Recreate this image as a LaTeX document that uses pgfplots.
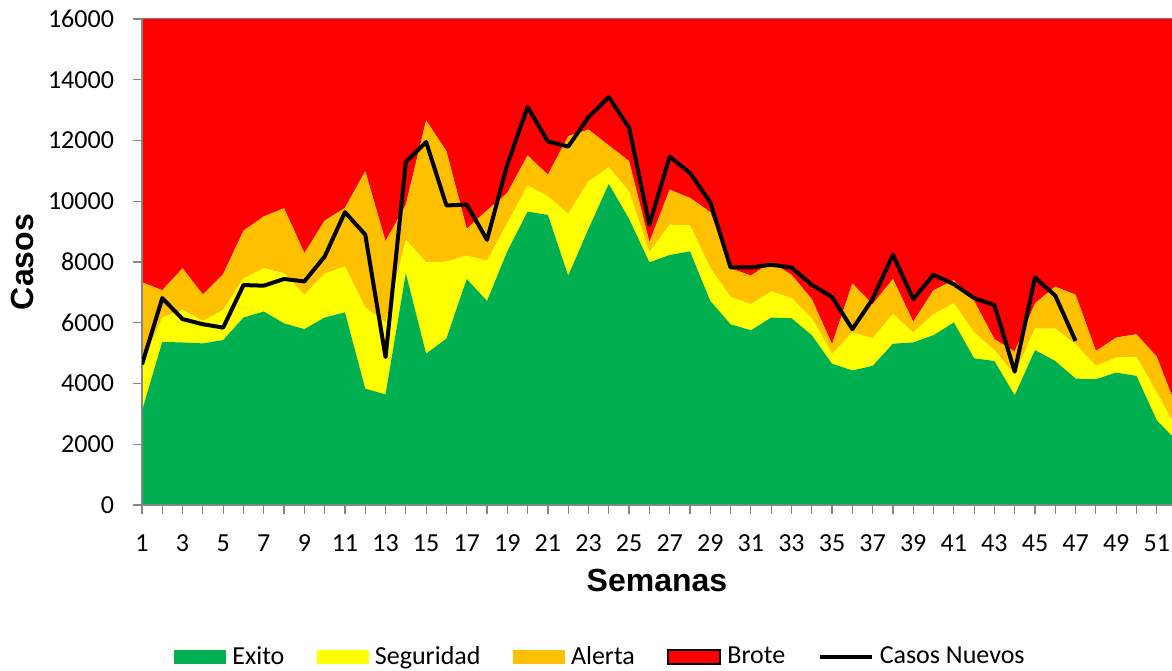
\documentclass[border=0pt]{standalone}
\usepackage{fontspec}
\setmainfont{Carlito}
\newfontfamily\arialfont{Liberation Sans}
\usepackage{pgfplots}
\usepackage{pgfplotstable}
\pgfplotsset{compat=1.18}
\definecolor{cExito}{HTML}{00B050}
\definecolor{cSeg}{HTML}{FFFF00}
\definecolor{cAlerta}{HTML}{FFC000}
\definecolor{cBrote}{HTML}{FF0000}
\definecolor{cAxis}{HTML}{868686}

\pgfplotstableread{
w exito seguridad alerta brote
1 3100 1530 2700 8670
2 5370 800 900 8930
3 5350 1070 1370 8210
4 5320 740 870 9070
5 5430 990 1180 8400
6 6170 1290 1570 6970
7 6370 1420 1710 6500
8 5980 1650 2140 6230
9 5790 1130 1370 7710
10 6170 1450 1740 6640
11 6340 1510 1930 6220
12 3830 2670 4490 5010
13 3640 2370 2670 7320
14 7630 1100 1160 6110
15 4980 3010 4670 3340
16 5480 2530 3640 4350
17 7440 770 880 6910
18 6720 1320 1660 6300
19 8350 930 990 5730
20 9660 860 990 4490
21 9550 610 710 5130
22 7550 2030 2560 3860
23 9090 1560 1710 3640
24 10570 550 720 4160
25 9420 900 1000 4680
26 7990 330 330 7350
27 8230 1000 1150 5620
28 8350 850 910 5890
29 6720 1080 1840 6360
30 5950 900 940 8210
31 5750 860 940 8450
32 6170 860 960 8010
33 6150 660 770 8420
34 5590 560 630 9220
35 4650 330 310 10710
36 4430 1250 1610 8710
37 4580 910 1120 9390
38 5310 970 1160 8560
39 5350 330 350 9970
40 5590 690 790 8930
41 6010 630 760 8600
42 4830 850 1040 9280
43 4740 360 360 10540
44 3610 690 750 10950
45 5100 710 830 9360
46 4740 1070 1380 8810
47 4160 1130 1630 9080
48 4140 440 490 10930
49 4360 490 660 10490
50 4250 630 740 10380
51 2790 910 1180 11120
52 2100 400 650 12850
}\datos

\pgfplotstableread{
w casos
1 4630
2 6810
3 6120
4 5950
5 5840
6 7240
7 7220
8 7440
9 7360
10 8180
11 9640
12 8900
13 4870
14 11290
15 11950
16 9860
17 9890
18 8730
19 11210
20 13100
21 11970
22 11800
23 12770
24 13430
25 12420
26 9230
27 11470
28 10930
29 9970
30 7820
31 7820
32 7910
33 7820
34 7250
35 6850
36 5790
37 6780
38 8240
39 6780
40 7580
41 7270
42 6810
43 6580
44 4390
45 7490
46 6890
47 5400
}\casos

\pgfplotsset{mybase/.style={width=515pt, height=243pt, scale only axis,
  xmin=1, xmax=51.75, ymin=0, ymax=16000}}

\begin{document}
\begin{tikzpicture}
\begin{axis}[mybase,
  stack plots=y,
  axis on top,
  axis x line*=bottom, axis y line*=left,
  axis line style={draw=cAxis, line width=1pt},
  tick align=outside,
  major tick length=4.5pt, minor tick length=4.5pt,
  every tick/.style={draw=cAxis, line width=0.6pt},
  ytick={0,2000,...,16000},
  scaled y ticks=false,
  xtick={1,3,...,51},
  minor xtick={2,4,...,52},
  /pgf/number format/assume math mode=true,
  /pgf/number format/1000 sep={},
  ticklabel style={font=\fontsize{13}{15}\selectfont},
  yticklabel style={xshift=-6pt},
  xticklabel style={yshift=-7pt},
  xlabel={Semanas}, ylabel={Casos},
  xlabel style={font=\arialfont\bfseries\fontsize{16}{19}\selectfont, at={(axis description cs:0.5,-0.156)}, anchor=center},
  ylabel style={font=\arialfont\bfseries\fontsize{16}{19}\selectfont, at={(axis description cs:-0.1165,0.5)}, anchor=center},
  legend columns=-1,
  legend style={draw=none, fill=none, at={(axis description cs:0.4471,-0.3128)}, anchor=center,
    font=\fontsize{13}{15}\selectfont,
    nodes={inner xsep=3pt},
    /tikz/every even column/.append style={column sep=13.25pt}},
]
\addplot[fill=cExito, draw=none, legend image code/.code={\fill[cExito] (0pt,-3.5pt) rectangle (26pt,3.5pt);}] table[x=w,y=exito]{\datos} \closedcycle;
\addlegendentry{Exito}
\addplot[fill=cSeg, draw=none, legend image code/.code={\fill[cSeg] (0pt,-3.5pt) rectangle (26pt,3.5pt);}] table[x=w,y=seguridad]{\datos} \closedcycle;
\addlegendentry{Seguridad}
\addplot[fill=cAlerta, draw=none, legend image code/.code={\fill[cAlerta] (0pt,-3.5pt) rectangle (26pt,3.5pt);}] table[x=w,y=alerta]{\datos} \closedcycle;
\addlegendentry{Alerta}
\addplot[fill=cBrote, draw=none, legend image code/.code={\draw[fill=cBrote, draw=black, line width=1pt] (0pt,-3.5pt) rectangle (26pt,3.5pt);}] table[x=w,y=brote]{\datos} \closedcycle;
\addlegendentry{Brote}
\addlegendimage{legend image code/.code={\draw[black, line width=2pt] (0pt,0pt) -- (26pt,0pt);}}
\addlegendentry{Casos Nuevos}
\coordinate (SW) at (rel axis cs:0,0);
\coordinate (NE) at (rel axis cs:1,1);
\draw[cAxis, line width=1pt] (rel axis cs:0,1) -- (rel axis cs:1,1);
\end{axis}
\begin{axis}[mybase, hide axis]
\addplot[black, line width=2pt, line join=round] table[x=w,y=casos]{\casos};
\end{axis}
\pgfresetboundingbox
\path ([shift={(-71pt,-83pt)}]SW) rectangle ([shift={(0pt,9.5pt)}]NE);
\end{tikzpicture}
\end{document}
